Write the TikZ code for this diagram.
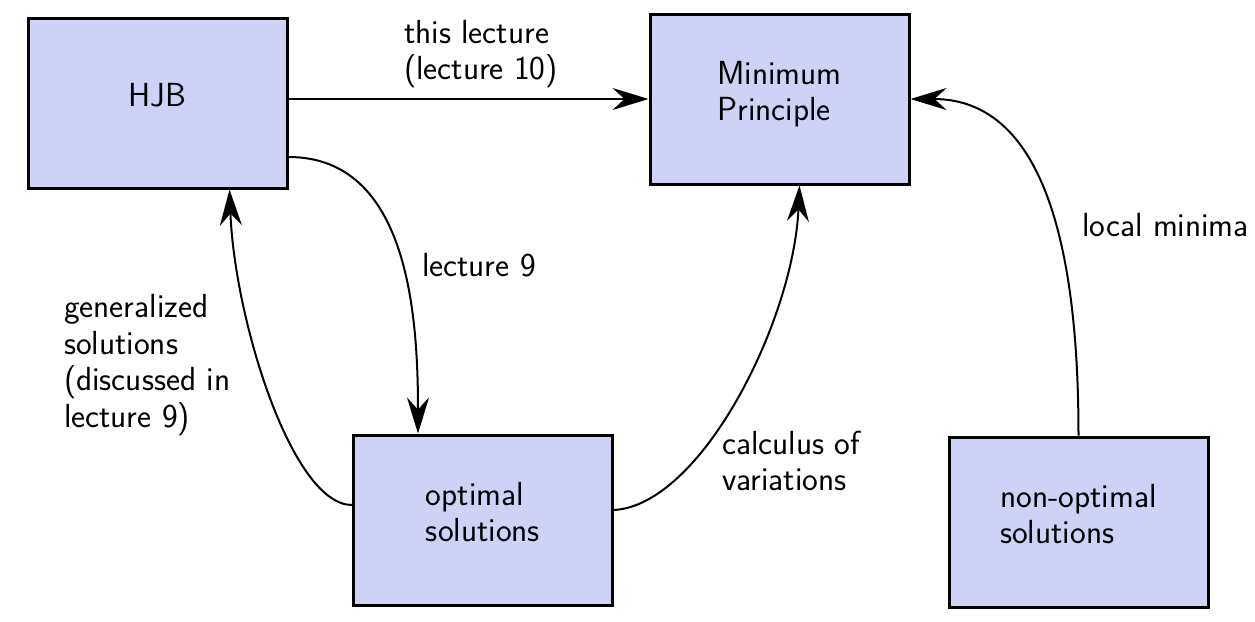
\documentclass[tikz,border=0pt]{standalone}
\usetikzlibrary{arrows.meta}
\definecolor{boxblue}{RGB}{205,210,246}
\tikzset{
	blockbox/.style = {draw, fill=boxblue, line width=1.5pt, minimum width=129.5pt, minimum height=85pt, align=left, text depth=8pt},
	flow/.style = {line width=1pt, -{Stealth[length=18pt, width=11pt, inset=6pt]}},
	flowlabel/.style = {anchor=west, align=left}
}
\begin{document}
\begin{tikzpicture}[x = 0.5pt, y = -0.5pt, font = \sffamily\fontsize{16.7}{18.2}\selectfont]
				\useasboundingbox (0, 0) rectangle (1255, 622);
				
				% boxes
				\node[blockbox] (hjb) at (157.5, 103) {HJB};
				\node[blockbox] (minp) at (779.5, 99) {Minimum\\Principle};
				\node[blockbox] (opt) at (483, 520) {optimal\\solutions};
				\node[blockbox] (nonopt) at (1078.5, 522) {non-optimal\\solutions};
				
				% arrows
				\draw[flow] (hjb.east |- minp.east) -- (minp.west);
				\draw[flow] ([yshift=-27pt]hjb.east) to[out=0, in=90] ([xshift=-32.5pt]opt.north);
				\draw[flow] ([yshift=7.5pt]opt.west) .. controls +(-60, 0) and +(5, 130) .. ([xshift=36pt]hjb.south);
				\draw[flow] ([yshift=5pt]opt.east) .. controls +(87, -5) and +(-6, 136) .. ([xshift=10pt]minp.south);
				\draw[flow] (nonopt.north) to[out=90, in=0] (minp.east);
				
				% labels
				\node[flowlabel] (l10) at (397, 54) {this lecture\\(lecture 10)};
				\node[flowlabel] (l9) at (415, 265) {lecture 9};
				\node[flowlabel] (gen) at (57, 365) {generalized\\solutions\\(discussed in\\lecture 9)};
				\node[flowlabel] (calc) at (715, 461) {calculus of\\variations};
				\node[flowlabel] (locmin) at (1075, 225) {local minima};
				
			\end{tikzpicture}
\end{document}
